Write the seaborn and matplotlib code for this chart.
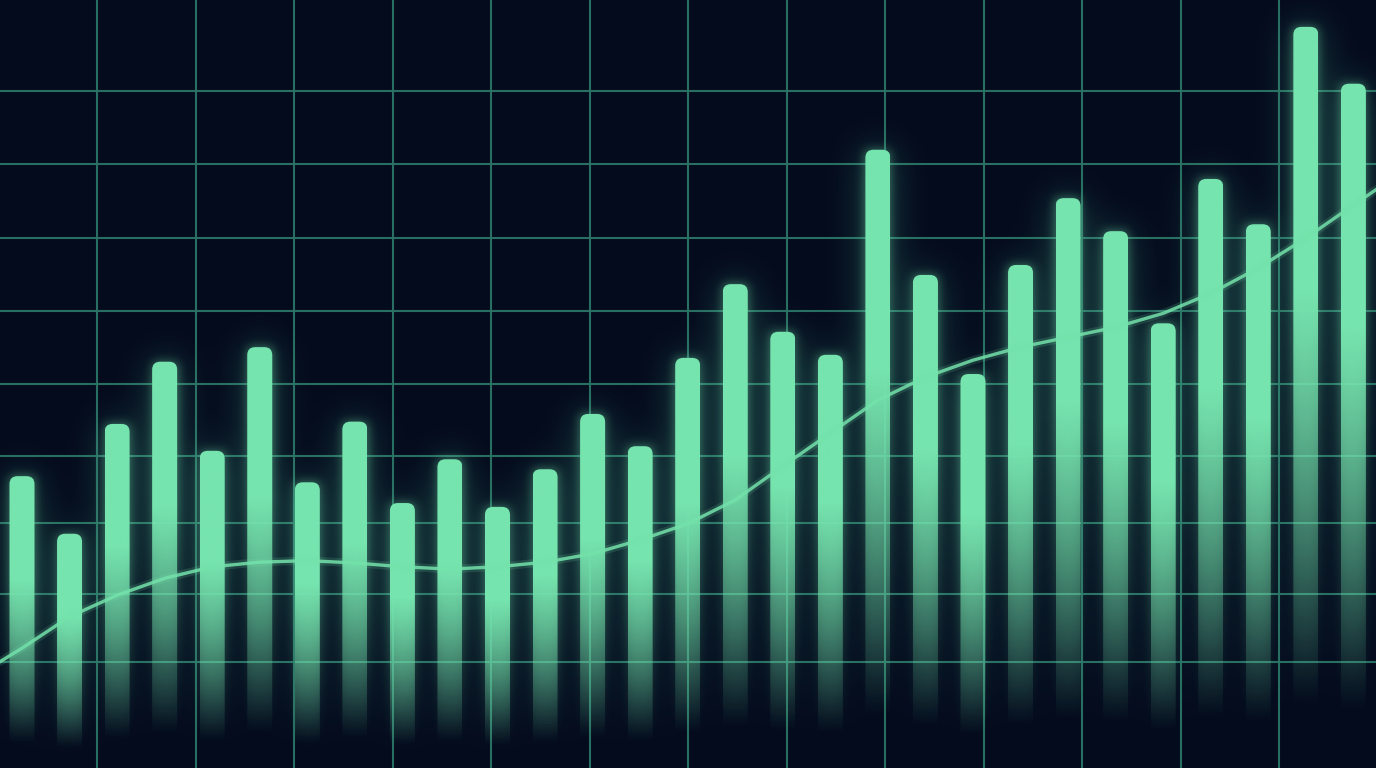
import numpy as np
import pandas as pd
import matplotlib
matplotlib.use("Agg")
import matplotlib.pyplot as plt
from matplotlib.patches import FancyBboxPatch
import seaborn as sns

# ---------------- data ----------------
periods = [f"P{i + 1:02d}" for i in range(29)]
values = [38.0, 30.5, 44.8, 52.9, 41.3, 54.8, 37.2, 45.1, 34.5, 40.2,
          34.0, 38.9, 46.1, 41.9, 53.4, 63.0, 56.8, 53.8, 80.5, 64.2,
          51.3, 65.5, 74.2, 69.9, 57.9, 76.7, 70.8, 96.5, 89.1]
trend_pos = [-0.5] + list(range(29)) + [28.5]
trend_values = [13.7, 15.6, 19.7, 22.5, 24.7, 26.2, 26.8, 27.0, 26.7, 26.2,
                25.9, 26.2, 26.8, 27.9, 29.7, 31.8, 34.9, 39.3, 43.6, 47.9,
                50.9, 53.1, 54.8, 56.1, 57.4, 59.2, 61.8, 65.1, 69.0, 73.3,
                75.4]

# ---------------- style ----------------
W, H = 1376, 768
BG = "#040b1d"
GRID = "#2b7466"
BAR_RGB = np.array([118, 228, 174]) / 255.0
GLOW_RGB = np.array([70, 175, 140]) / 255.0
LINE = "#74e2ab"
PX_PER_CAT = 47.55
XLO = -22.0 / PX_PER_CAT
XHI = XLO + W / PX_PER_CAT
YLO, YHI = 0.0, 100.0

sns.set_theme(style="dark")
fig = plt.figure(figsize=(W / 100, H / 100), dpi=100, facecolor=BG)

# background grid axes (pixel space)
ax_bg = fig.add_axes([0, 0, 1, 1], zorder=0)
ax_bg.set_facecolor(BG)
ax_bg.set_xlim(0, W)
ax_bg.set_ylim(H, 0)
vgrid = [97 + k * 98.5 for k in range(13)]
hgrid = [91, 164, 238, 311, 384, 456, 523, 594, 662]
ax_bg.set_xticks(vgrid)
ax_bg.set_yticks(hgrid)
ax_bg.grid(True, color=GRID, linewidth=1.5, alpha=0.95)
ax_bg.tick_params(length=0, labelbottom=False, labelleft=False)
for s in ax_bg.spines.values():
    s.set_visible(False)

# main data axes
ax = fig.add_axes([0, 0, 1, 1], zorder=1)
ax.patch.set_alpha(0)
df = pd.DataFrame({"period": periods, "value": values})
sns.barplot(data=df, x="period", y="value", ax=ax, width=25 / PX_PER_CAT,
            color="#76e4ae", saturation=1, errorbar=None)


def fade(f):
    t = np.clip((f - 0.08) / (0.64 - 0.08), 0, 1)
    return t ** 1.1


xs = np.linspace(XLO, XHI, W)
ys = np.linspace(YLO, YHI, H)
mask = np.zeros((H, W))
radius = 8 / PX_PER_CAT
aspect = ((YHI - YLO) / H) * PX_PER_CAT
fr = np.linspace(0, 1, 400)
for p in list(ax.patches):
    x0, w, h = p.get_x(), p.get_width(), p.get_height()
    p.set_visible(False)
    inx = (xs >= x0) & (xs <= x0 + w)
    col = np.where(ys <= h, fade(ys / h), 0.0)
    mask[:, inx] = np.maximum(mask[:, inx], col[:, None])
    fb = FancyBboxPatch((x0, 0), w, h,
                        boxstyle=f"round,pad=0,rounding_size={radius}",
                        mutation_aspect=aspect, facecolor="none",
                        edgecolor="none", transform=ax.transData)
    ax.add_patch(fb)
    grad = np.zeros((400, 1, 4))
    grad[..., :3] = BAR_RGB
    grad[:, 0, 3] = fade(fr)
    im = ax.imshow(grad, extent=[x0, x0 + w, 0, h], origin="lower",
                   aspect="auto", interpolation="bilinear", zorder=3)
    im.set_clip_path(fb)


def blur(a, sigma):
    r = int(3 * sigma)
    k = np.exp(-0.5 * (np.arange(-r, r + 1) / sigma) ** 2)
    k /= k.sum()
    a = np.apply_along_axis(lambda m: np.convolve(m, k, mode="same"), 1, a)
    a = np.apply_along_axis(lambda m: np.convolve(m, k, mode="same"), 0, a)
    return a


near = np.clip(0.45 * blur(mask, 5), 0, 1)
wide = np.clip(0.45 * blur(mask, 18), 0, 1)
wimg = np.zeros((H, W, 4))
wimg[..., :3] = GLOW_RGB
wimg[..., 3] = wide
ax.imshow(wimg, extent=[XLO, XHI, YLO, YHI], origin="lower", aspect="auto",
          interpolation="bilinear", zorder=1.5)
gimg = np.zeros((H, W, 4))
gimg[..., :3] = BAR_RGB
gimg[..., 3] = near
ax.imshow(gimg, extent=[XLO, XHI, YLO, YHI], origin="lower", aspect="auto",
          interpolation="bilinear", zorder=2)

# trend line with soft glow
sns.lineplot(x=trend_pos, y=trend_values, ax=ax, color=LINE, linewidth=6,
             alpha=0.15, zorder=4, solid_capstyle="round")
sns.lineplot(x=trend_pos, y=trend_values, ax=ax, color=LINE, linewidth=2.4,
             alpha=0.85, zorder=4, solid_capstyle="round",
             solid_joinstyle="round")

ax.set_xlim(XLO, XHI)
ax.set_ylim(YLO, YHI)
ax.set_axis_off()

fig.savefig("out.png", dpi=100, facecolor=BG)
